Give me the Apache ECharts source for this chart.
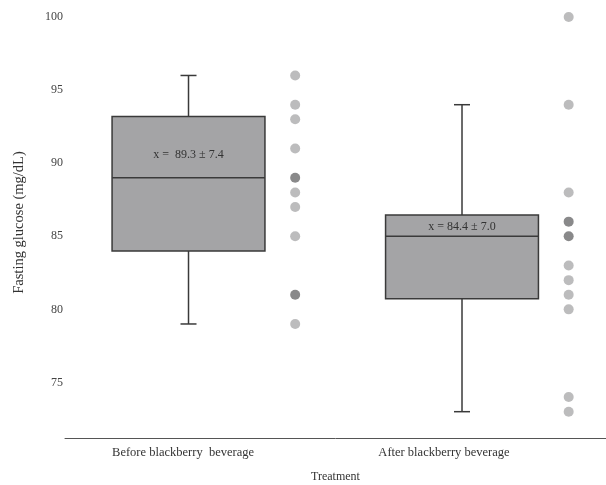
<!DOCTYPE html>
<html><head><meta charset="utf-8">
<script src="https://cdn.jsdelivr.net/npm/echarts@6/dist/echarts.min.js"></script>
<style>html,body{margin:0;padding:0;background:#fff}#c{width:606px;height:485px}</style>
</head><body><div id="c"></div>
<script>
// ---- data ----
const categories = ['Before blackberry  beverage', 'After blackberry beverage'];
// [whisker low, Q1, median, Q3, whisker high]
const boxBefore = [79, 84, 89, 93.2, 96];
const boxAfter = [73, 80.73, 85, 86.46, 94];
const annotations = ['x =  89.3 \u00b1 7.4', 'x = 84.4 \u00b1 7.0'];
const pointsBefore = [96, 94, 93, 91, 89, 89, 88, 87, 85, 81, 81, 79];
const pointsAfter = [100, 94, 88, 86, 86, 85, 85, 83, 82, 81, 80, 74, 73];
const yTicks = [75, 80, 85, 90, 95, 100];

// ---- layout (not data) ----
const CAT_POS = [1, 2];
const POINT_OFFSET = 0.39;
const LABEL_POS = [0.98, 1.934];
const ANNOT_AT = [90.57, 85.66];
const BOX_UNITS = 0.559;
const CAP_W = 16;
const FONT = '"Liberation Serif", "Times New Roman", serif';

const boxData = [[CAT_POS[0]].concat(boxBefore), [CAT_POS[1]].concat(boxAfter)];

function pointData(values, pos) {
  const counts = {};
  values.forEach(v => { counts[v] = (counts[v] || 0) + 1; });
  return Object.keys(counts).map(k => ({
    value: [pos + POINT_OFFSET, Number(k)],
    itemStyle: { color: counts[k] > 1 ? '#6b6b6d' : '#ababad' }
  }));
}
const scatterData = pointData(pointsBefore, CAT_POS[0]).concat(pointData(pointsAfter, CAT_POS[1]));

const chart = echarts.init(document.getElementById('c'), null, { renderer: 'canvas' });
const stroke = { stroke: '#3a3a3a', lineWidth: 1.5 };
chart.setOption({
  animation: false,
  grid: { left: 65, right: 0, top: 17, bottom: 47, outerBoundsMode: 'none', containLabel: false },
  xAxis: {
    type: 'value', min: 0.5484, max: 2.5265,
    axisLine: { show: true, lineStyle: { color: '#555', width: 1 } },
    axisTick: { show: false },
    splitLine: { show: false },
    axisLabel: {
      customValues: LABEL_POS,
      margin: 8,
      fontFamily: FONT, fontSize: 12.5, color: '#333',
      formatter: v => {
        let best = 0;
        LABEL_POS.forEach((p, i) => { if (Math.abs(p - v) < Math.abs(LABEL_POS[best] - v)) best = i; });
        return categories[best];
      }
    },
    name: 'Treatment', nameLocation: 'middle', nameGap: 33,
    nameTextStyle: { fontFamily: FONT, fontSize: 12, color: '#333' }
  },
  yAxis: {
    type: 'value', min: 71.2, max: 100,
    axisLine: { show: false }, axisTick: { show: false }, splitLine: { show: false },
    axisLabel: { customValues: yTicks, margin: 2, fontFamily: FONT, fontSize: 12, color: '#444' },
    name: 'Fasting glucose (mg/dL)', nameLocation: 'middle', nameGap: 38,
    nameTextStyle: { fontFamily: FONT, fontSize: 14.5, color: '#333', padding: [0, 0, 0, 10] }
  },
  series: [
    {
      type: 'custom',
      encode: { x: 0, y: [1, 2, 3, 4, 5] },
      data: boxData,
      renderItem: function (params, api) {
        const x = api.value(0);
        const lo = api.coord([x, api.value(1)]);
        const q1 = api.coord([x, api.value(2)]);
        const med = api.coord([x, api.value(3)]);
        const q3 = api.coord([x, api.value(4)]);
        const hi = api.coord([x, api.value(5)]);
        const bw = api.size([BOX_UNITS, 0])[0];
        const half = bw / 2, cap = CAP_W / 2, cx = lo[0];
        const idx = params.dataIndex;
        return {
          type: 'group', children: [
            { type: 'line', shape: { x1: cx, y1: hi[1], x2: cx, y2: q3[1] }, style: stroke },
            { type: 'line', shape: { x1: cx, y1: q1[1], x2: cx, y2: lo[1] }, style: stroke },
            { type: 'line', shape: { x1: cx - cap, y1: hi[1], x2: cx + cap, y2: hi[1] }, style: stroke },
            { type: 'line', shape: { x1: cx - cap, y1: lo[1], x2: cx + cap, y2: lo[1] }, style: stroke },
            { type: 'rect', shape: { x: cx - half, y: q3[1], width: bw, height: q1[1] - q3[1] },
              style: { fill: '#a4a4a6', stroke: '#3a3a3a', lineWidth: 1.5 } },
            { type: 'line', shape: { x1: cx - half, y1: med[1], x2: cx + half, y2: med[1] }, style: stroke },
            { type: 'text', x: cx, y: api.coord([x, ANNOT_AT[idx]])[1],
              style: { text: annotations[idx], align: 'center', verticalAlign: 'middle',
                       font: '12px ' + FONT, fill: '#333' } }
          ]
        };
      }
    },
    {
      type: 'scatter',
      symbolSize: 10,
      data: scatterData
    }
  ]
});
</script>
</body></html>
